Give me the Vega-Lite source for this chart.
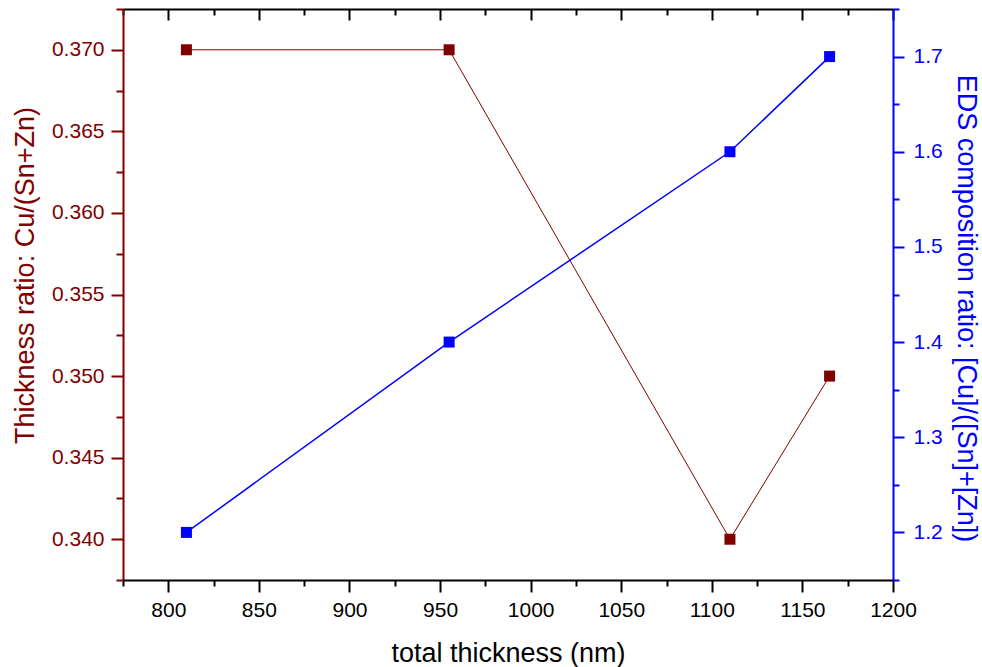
{
  "$schema": "https://vega.github.io/schema/vega-lite/v6.json",
  "width": 770,
  "height": 571,
  "autosize": {"type": "none"},
  "padding": {"left": 123, "top": 9, "right": 89, "bottom": 87},
  "background": "white",
  "config": {
    "view": {"stroke": null},
    "font": "Liberation Sans",
    "axis": {
      "grid": false,
      "labelFont": "Liberation Sans",
      "titleFont": "Liberation Sans",
      "labelFontSize": 21,
      "titleFontSize": 27,
      "titleFontWeight": "normal",
      "tickWidth": 2,
      "domainWidth": 2,
      "labelFlush": false,
      "labelOverlap": false
    }
  },
  "data": {
    "values": [
      {"thickness_nm": 810, "thickness_ratio": 0.370, "eds_ratio": 1.2},
      {"thickness_nm": 955, "thickness_ratio": 0.370, "eds_ratio": 1.4},
      {"thickness_nm": 1110, "thickness_ratio": 0.340, "eds_ratio": 1.6},
      {"thickness_nm": 1165, "thickness_ratio": 0.350, "eds_ratio": 1.7}
    ]
  },
  "layer": [
    {
      "mark": {"type": "line", "color": "#800000", "strokeWidth": 1},
      "encoding": {
        "x": {
          "field": "thickness_nm", "type": "quantitative",
          "scale": {"domain": [775, 1200], "nice": false, "zero": false},
          "axis": {
            "orient": "bottom",
            "values": [800, 850, 900, 950, 1000, 1050, 1100, 1150, 1200],
            "format": "d",
            "tickSize": 12, "tickColor": "black",
            "domainColor": "black",
            "labelColor": "black", "labelPadding": 7,
            "title": "total thickness (nm)", "titleColor": "black",
            "titleY": 81, "titleBaseline": "alphabetic"
          }
        },
        "y": {
          "field": "thickness_ratio", "type": "quantitative",
          "scale": {"domain": [0.3375, 0.3725], "nice": false, "zero": false},
          "axis": {
            "orient": "left",
            "values": [0.340, 0.345, 0.350, 0.355, 0.360, 0.365, 0.370],
            "format": ".3f",
            "tickSize": 12, "tickColor": "#800000",
            "domainColor": "#800000",
            "labelColor": "#800000", "labelPadding": 7,
            "title": "Thickness ratio: Cu/(Sn+Zn)", "titleColor": "#800000",
            "titleAngle": -90, "titleX": -90, "titleY": 266, "titleBaseline": "alphabetic"
          }
        }
      }
    },
    {
      "mark": {"type": "square", "color": "#800000", "size": 121, "opacity": 1, "strokeWidth": 0},
      "encoding": {
        "x": {
          "field": "thickness_nm", "type": "quantitative",
          "scale": {"domain": [775, 1200], "nice": false, "zero": false},
          "axis": {
            "orient": "bottom",
            "values": [775, 825, 875, 925, 975, 1025, 1075, 1125, 1175],
            "tickSize": 6, "tickColor": "black",
            "domain": false, "labels": false, "title": null
          }
        },
        "y": {
          "field": "thickness_ratio", "type": "quantitative",
          "scale": {"domain": [0.3375, 0.3725], "nice": false, "zero": false},
          "axis": {
            "orient": "left",
            "values": [0.3375, 0.3425, 0.3475, 0.3525, 0.3575, 0.3625, 0.3675, 0.3725],
            "tickSize": 7, "tickColor": "#800000",
            "domain": false, "labels": false, "title": null
          }
        }
      }
    },
    {
      "mark": {"type": "line", "color": "#0000FF", "strokeWidth": 1.5},
      "encoding": {
        "x": {
          "field": "thickness_nm", "type": "quantitative",
          "scale": {"domain": [775, 1200], "nice": false, "zero": false},
          "axis": {
            "orient": "top",
            "values": [800, 850, 900, 950, 1000, 1050, 1100, 1150, 1200],
            "tickSize": -11, "tickColor": "black",
            "domainColor": "black",
            "labels": false, "title": null
          }
        },
        "y": {
          "field": "eds_ratio", "type": "quantitative",
          "scale": {"domain": [1.15, 1.75], "nice": false, "zero": false},
          "axis": {
            "orient": "right",
            "values": [1.2, 1.3, 1.4, 1.5, 1.6, 1.7],
            "format": ".1f",
            "tickSize": 11, "tickColor": "#0000FF",
            "domainColor": "#0000FF",
            "labelColor": "#0000FF", "labelPadding": 9,
            "title": "EDS composition ratio: [Cu]/([Sn]+[Zn])", "titleColor": "#0000FF",
            "titleAngle": 90, "titleX": 64, "titleY": 299, "titleBaseline": "alphabetic"
          }
        }
      }
    },
    {
      "mark": {"type": "square", "color": "#0000FF", "size": 121, "opacity": 1, "strokeWidth": 0},
      "encoding": {
        "x": {
          "field": "thickness_nm", "type": "quantitative",
          "scale": {"domain": [775, 1200], "nice": false, "zero": false},
          "axis": {
            "orient": "top",
            "values": [775, 825, 875, 925, 975, 1025, 1075, 1125, 1175],
            "tickSize": -6, "tickColor": "black",
            "domain": false, "labels": false, "title": null
          }
        },
        "y": {
          "field": "eds_ratio", "type": "quantitative",
          "scale": {"domain": [1.15, 1.75], "nice": false, "zero": false},
          "axis": {
            "orient": "right",
            "values": [1.15, 1.25, 1.35, 1.45, 1.55, 1.65, 1.75],
            "tickSize": 6, "tickColor": "#0000FF",
            "domain": false, "labels": false, "title": null
          }
        }
      }
    }
  ],
  "resolve": {
    "scale": {"y": "independent"},
    "axis": {"x": "independent", "y": "independent"}
  }
}
